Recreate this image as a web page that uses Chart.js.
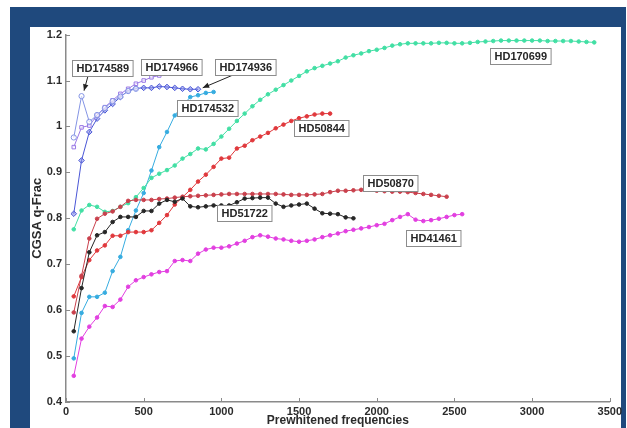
<!DOCTYPE html>
<html>
<head>
<meta charset="utf-8">
<script src="https://cdn.jsdelivr.net/npm/chart.js@4.4.0/dist/chart.umd.min.js"></script>
<style>
  html, body { margin: 0; padding: 0; background: #fff; overflow: hidden; }
  #frame { position: absolute; left: 10px; top: 7px; width: 616px; height: 421px; background: #1f497d; }
  #plot { position: absolute; left: 30px; top: 27px; width: 591px; height: 401px; background: #fff; }
  #chart { position: absolute; left: 30px; top: 24px; }
</style>
</head>
<body>
<div id="frame"></div>
<div id="plot"></div>
<canvas id="chart" width="595" height="404"></canvas>
<script>
// frequencies (x) shared by all stars, every series starts at 50
const freqs = [
  50, 100, 150, 200, 250, 300, 350, 400, 450, 500,
  550, 600, 650, 700, 750, 800, 850, 900, 950, 1000,
  1050, 1100, 1150, 1200, 1250, 1300, 1350, 1400, 1450, 1500,
  1550, 1600, 1650, 1700, 1750, 1800, 1850, 1900, 1950, 2000,
  2050, 2100, 2150, 2200, 2250, 2300, 2350, 2400, 2450, 2500,
  2550, 2600, 2650, 2700, 2750, 2800, 2850, 2900, 2950, 3000,
  3050, 3100, 3150, 3200, 3250, 3300, 3350, 3400
];

// CGSA q-Frac per star
const hd170699 = [
  0.776, 0.817, 0.829, 0.825, 0.814, 0.816, 0.825, 0.833, 0.846, 0.866,
  0.888, 0.897, 0.905, 0.915, 0.930, 0.940, 0.952, 0.950, 0.962, 0.978,
  0.995, 1.012, 1.028, 1.044, 1.058, 1.070, 1.080, 1.090, 1.100, 1.110,
  1.120, 1.127, 1.132, 1.137, 1.142, 1.150, 1.155, 1.159, 1.164, 1.167,
  1.171, 1.176, 1.179, 1.181, 1.181, 1.181, 1.181, 1.182, 1.182, 1.181,
  1.181, 1.182, 1.184, 1.185, 1.186, 1.187, 1.187, 1.187, 1.187, 1.187,
  1.187, 1.186, 1.186, 1.186, 1.186, 1.185, 1.184, 1.183
];
const hd50844 = [
  0.630, 0.672, 0.709, 0.730, 0.741, 0.762, 0.762, 0.770, 0.770, 0.770,
  0.774, 0.790, 0.807, 0.830, 0.846, 0.862, 0.880, 0.895, 0.912, 0.930,
  0.932, 0.952, 0.958, 0.970, 0.978, 0.986, 0.996, 1.004, 1.012, 1.018,
  1.022, 1.026, 1.028, 1.028
];
const hd50870 = [
  0.595, 0.675, 0.756, 0.799, 0.810, 0.815, 0.825, 0.838, 0.840, 0.840,
  0.840, 0.842, 0.843, 0.845, 0.847, 0.848, 0.849, 0.850, 0.851, 0.852,
  0.853, 0.853, 0.853, 0.853, 0.853, 0.853, 0.853, 0.852, 0.851, 0.851,
  0.851, 0.852, 0.853, 0.857, 0.860, 0.860, 0.861, 0.862, 0.862, 0.860,
  0.859, 0.858, 0.858, 0.857, 0.855, 0.853, 0.851, 0.849, 0.847
];
const hd51722 = [
  0.554, 0.648, 0.726, 0.763, 0.770, 0.792, 0.803, 0.803, 0.803, 0.816,
  0.816, 0.832, 0.840, 0.836, 0.843, 0.826, 0.824, 0.826, 0.828, 0.828,
  0.828, 0.835, 0.843, 0.844, 0.845, 0.845, 0.832, 0.825, 0.828, 0.830,
  0.832, 0.821, 0.811, 0.810, 0.809, 0.802, 0.800
];
const hd41461 = [
  0.457, 0.538, 0.564, 0.584, 0.609, 0.607, 0.623, 0.651, 0.665, 0.672,
  0.678, 0.683, 0.685, 0.707, 0.709, 0.707, 0.723, 0.732, 0.736, 0.736,
  0.739, 0.745, 0.751, 0.759, 0.763, 0.760, 0.756, 0.754, 0.751, 0.749,
  0.751, 0.754, 0.759, 0.763, 0.767, 0.772, 0.775, 0.778, 0.781, 0.785,
  0.788, 0.796, 0.803, 0.809, 0.797, 0.794, 0.796, 0.799, 0.803, 0.807,
  0.809
];
const hd174532 = [
  0.495, 0.594, 0.629, 0.629, 0.638, 0.685, 0.716, 0.774, 0.817, 0.855,
  0.904, 0.955, 0.988, 1.024, 1.045, 1.064, 1.068, 1.073, 1.075
];
const hd174589 = [0.976, 1.066, 1.010, 1.025, 1.040, 1.055, 1.065, 1.077, 1.082];
const hd174966 = [0.955, 0.998, 1.002, 1.024, 1.042, 1.057, 1.071, 1.082, 1.093, 1.100, 1.107, 1.111];
const hd174936 = [
  0.810, 0.926, 0.988, 1.017, 1.035, 1.049, 1.064, 1.078, 1.083, 1.084,
  1.084, 1.087, 1.086, 1.084, 1.082, 1.081, 1.081
];

const xTicks = [0, 500, 1000, 1500, 2000, 2500, 3000, 3500];
const yTicks = [0.4, 0.5, 0.6, 0.7, 0.8, 0.9, 1.0, 1.1, 1.2];

// name boxes, placed in data units
const notes = [
  { text: 'HD174589', x: 236, y: 1.128, from: [141, 1.109], to: [116, 1.078] },
  { text: 'HD174966', x: 678, y: 1.129 },
  { text: 'HD174936', x: 1152, y: 1.129, from: [1068, 1.111], to: [880, 1.084] },
  { text: 'HD174532', x: 907, y: 1.04 },
  { text: 'HD50844', x: 1644, y: 0.996 },
  { text: 'HD170699', x: 2921, y: 1.154 },
  { text: 'HD50870', x: 2087, y: 0.877 },
  { text: 'HD51722', x: 1149, y: 0.811 },
  { text: 'HD41461', x: 2364, y: 0.758 }
];

function pts(values) {
  return values.map((v, i) => ({ x: freqs[i], y: v }));
}

function series(label, values, color, style, radius, fill) {
  return {
    label: label,
    data: pts(values),
    borderColor: color,
    backgroundColor: fill || color,
    borderWidth: 1,
    pointStyle: style,
    pointRadius: radius,
    pointBorderWidth: 1,
    pointBorderColor: color,
    pointBackgroundColor: fill || color,
    tension: 0
  };
}

const FONT = '"Liberation Sans", Arial, sans-serif';

// little inward tick marks like the original (matlab style)
const innerTicks = {
  id: 'innerTicks',
  afterDraw(chart) {
    const ctx = chart.ctx;
    const x = chart.scales.x, y = chart.scales.y;
    const area = chart.chartArea;
    ctx.save();
    ctx.strokeStyle = '#8a8a8a';
    ctx.lineWidth = 1;
    ctx.beginPath();
    xTicks.forEach(t => {
      const px = Math.round(x.getPixelForValue(t)) + 0.5;
      ctx.moveTo(px, area.bottom);
      ctx.lineTo(px, area.bottom - 4);
    });
    yTicks.forEach(t => {
      const py = Math.round(y.getPixelForValue(t)) + 0.5;
      ctx.moveTo(area.left, py);
      ctx.lineTo(area.left + 4, py);
    });
    ctx.stroke();
    ctx.restore();
  }
};

// boxed star names and the two arrows
const nameBoxes = {
  id: 'nameBoxes',
  afterDatasetsDraw(chart) {
    const ctx = chart.ctx;
    const x = chart.scales.x, y = chart.scales.y;
    ctx.save();
    notes.forEach(n => {
      if (n.from) {
        const x1 = x.getPixelForValue(n.from[0]), y1 = y.getPixelForValue(n.from[1]);
        const x2 = x.getPixelForValue(n.to[0]), y2 = y.getPixelForValue(n.to[1]);
        const a = Math.atan2(y2 - y1, x2 - x1);
        ctx.strokeStyle = '#222';
        ctx.fillStyle = '#222';
        ctx.lineWidth = 1;
        ctx.beginPath();
        ctx.moveTo(x1, y1);
        ctx.lineTo(x2, y2);
        ctx.stroke();
        ctx.beginPath();
        ctx.moveTo(x2, y2);
        ctx.lineTo(x2 - 7 * Math.cos(a - 0.4), y2 - 7 * Math.sin(a - 0.4));
        ctx.lineTo(x2 - 7 * Math.cos(a + 0.4), y2 - 7 * Math.sin(a + 0.4));
        ctx.closePath();
        ctx.fill();
      }
      ctx.font = 'bold 11px ' + FONT;
      const w = ctx.measureText(n.text).width + 8;
      const h = 16;
      const cx = x.getPixelForValue(n.x), cy = y.getPixelForValue(n.y);
      const bx = Math.round(cx - w / 2) + 0.5, by = Math.round(cy - h / 2) + 0.5;
      ctx.fillStyle = '#fff';
      ctx.fillRect(bx, by, w, h);
      ctx.strokeStyle = '#8c8c8c';
      ctx.lineWidth = 1;
      ctx.strokeRect(bx, by, w, h);
      ctx.fillStyle = '#262626';
      ctx.textAlign = 'center';
      ctx.textBaseline = 'middle';
      ctx.fillText(n.text, bx + w / 2, by + h / 2 + 0.5);
    });
    ctx.restore();
  }
};

const ctx = document.getElementById('chart').getContext('2d');
const chart = new Chart(ctx, {
  type: 'line',
  data: {
    datasets: [
      series('HD41461', hd41461, '#e23fe0', 'circle', 1.8),
      series('HD51722', hd51722, '#262626', 'circle', 1.8),
      series('HD50870', hd50870, '#c9404c', 'circle', 1.8),
      series('HD50844', hd50844, '#e0383c', 'circle', 1.8),
      series('HD170699', hd170699, '#42dfa4', 'circle', 1.8),
      series('HD174532', hd174532, '#36ace0', 'circle', 1.8),
      series('HD174589', hd174589, '#8494e4', 'circle', 2.6, 'rgba(255,255,255,0.6)'),
      series('HD174966', hd174966, '#9a78e6', 'rect', 2.5, 'rgba(255,255,255,0.6)'),
      series('HD174936', hd174936, '#4a56d6', 'rectRot', 2.8, 'rgba(120,130,230,0.5)')
    ]
  },
  options: {
    responsive: false,
    animation: false,
    devicePixelRatio: 1,
    layout: { padding: { top: 0, right: 0, left: 0, bottom: 0 } },
    plugins: {
      legend: { display: false },
      tooltip: { enabled: false }
    },
    scales: {
      x: {
        type: 'linear',
        min: 0,
        max: 3500,
        afterBuildTicks: s => { s.ticks = xTicks.map(v => ({ value: v })); },
        afterFit: s => { s.height = 26; },
        grid: { display: true, drawOnChartArea: false, drawTicks: false },
        border: { display: true, color: '#8a8a8a', width: 1.5 },
        ticks: {
          padding: 3,
          color: '#2b2b2b',
          font: { family: FONT, size: 11, weight: 'bold' },
          maxRotation: 0,
          callback: v => String(v)
        },
        title: {
          display: true,
          text: 'Prewhitened frequencies',
          color: '#2b2b2b',
          font: { family: FONT, size: 12, weight: 'bold' },
          padding: { top: 0, bottom: 0 }
        }
      },
      y: {
        min: 0.4,
        max: 1.2,
        afterBuildTicks: s => { s.ticks = yTicks.map(v => ({ value: v })); },
        afterFit: s => { s.width = 36; },
        grid: { display: true, drawOnChartArea: false, drawTicks: false },
        border: { display: true, color: '#8a8a8a', width: 1.5 },
        ticks: {
          padding: 4,
          color: '#2b2b2b',
          font: { family: FONT, size: 11, weight: 'bold' },
          callback: v => String(Math.round(v * 10) / 10)
        },
        title: {
          display: true,
          text: 'CGSA q-Frac',
          color: '#2b2b2b',
          font: { family: FONT, size: 13, weight: 'bold' },
          padding: { top: 0, bottom: 0 }
        }
      }
    }
  },
  plugins: [innerTicks, nameBoxes]
});
</script>
</body>
</html>
